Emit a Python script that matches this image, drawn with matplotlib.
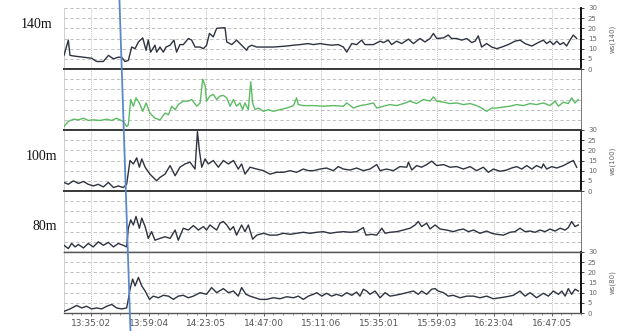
import matplotlib
matplotlib.use("Agg")
import matplotlib.pyplot as plt
from matplotlib.lines import Line2D
import matplotlib.transforms as mtransforms
import numpy as np

# ---------------- data (time in minutes from start of record, wind speed) ----------------
time_labels = ["13:35:02", "13:59:04", "14:23:05", "14:47:00", "15:11:06",
               "15:35:01", "15:59:03", "16:23:04", "16:47:05"]
first_tick = 11.25
tick_step = 24.0
t_end = 215.4

t140 = [0.0, 1.8, 2.5, 4.6, 8.1, 11.5, 13.6, 16.4, 18.5, 20.6,
        22.6, 24.0, 25.4, 26.8, 28.2, 29.6, 31.0, 32.8, 34.2, 35.1,
        36.1, 37.9, 38.6, 40.0, 41.4, 42.5, 44.2, 45.8, 46.9, 48.3,
        49.7, 51.8, 53.2, 54.6, 56.7, 58.1, 59.4, 60.6, 62.2, 63.6,
        66.4, 67.1, 67.8, 69.9, 71.9, 74.0, 76.1, 76.8, 78.2, 80.3,
        83.1, 87.2, 92.8, 95.6, 98.3, 101.8, 103.9, 106.7, 109.4, 111.5,
        114.3, 116.4, 117.8, 119.9, 121.9, 124.0, 125.4, 128.9, 131.7, 133.1,
        135.1, 136.5, 138.6, 140.7, 143.5, 145.6, 148.3, 150.4, 152.5, 153.9,
        155.3, 158.1, 160.1, 161.5, 163.6, 165.7, 167.8, 169.9, 171.3, 172.6,
        174.0, 176.1, 178.2, 180.3, 182.4, 185.1, 187.9, 190.0, 192.1, 194.9,
        197.6, 199.7, 201.1, 202.5, 203.9, 205.3, 206.7, 208.1, 209.4, 210.8,
        212.2, 213.6]
v140 = [6.7, 14.2, 6.7, 6.3, 5.8, 5.3, 3.7, 3.7, 6.7, 5.0,
        5.8, 5.8, 3.7, 4.2, 10.8, 10.0, 13.3, 15.3, 9.2, 14.2,
        8.3, 11.7, 8.3, 10.8, 8.3, 10.8, 11.7, 14.2, 8.3, 12.0,
        12.0, 15.0, 14.2, 10.8, 10.8, 10.0, 11.7, 17.5, 15.8, 20.0,
        20.3, 20.3, 13.3, 12.0, 14.2, 11.7, 9.2, 10.8, 11.7, 10.8,
        10.8, 10.8, 11.3, 11.7, 12.0, 12.5, 12.0, 12.5, 12.0, 11.7,
        12.0, 10.8, 8.3, 12.5, 12.0, 14.2, 12.0, 12.0, 13.7, 13.0,
        14.2, 12.0, 13.7, 12.5, 14.7, 12.5, 15.0, 13.3, 15.0, 17.5,
        15.0, 15.3, 16.7, 15.0, 15.0, 14.2, 15.0, 13.0, 13.7, 16.3,
        10.8, 12.5, 10.8, 10.0, 10.8, 12.0, 13.7, 14.2, 12.5, 11.3,
        13.0, 14.2, 12.5, 13.7, 12.0, 13.7, 12.0, 13.0, 11.3, 14.2,
        16.7, 15.0]

t120 = [0.0, 1.8, 3.9, 6.0, 8.1, 10.1, 12.2, 15.0, 17.8, 19.9,
        21.9, 23.3, 24.7, 26.1, 26.8, 27.8, 28.9, 30.0, 31.4, 32.8,
        34.2, 35.8, 37.9, 40.0, 42.1, 43.5, 44.9, 46.3, 47.6, 49.7,
        51.8, 53.2, 55.3, 56.7, 57.8, 58.8, 59.4, 60.8, 62.2, 63.6,
        65.0, 66.4, 67.8, 69.2, 70.6, 71.9, 73.3, 74.4, 75.4, 76.8,
        77.8, 78.6, 79.6, 81.0, 83.1, 85.1, 87.2, 90.0, 92.8, 95.6,
        96.9, 97.6, 99.7, 103.9, 108.1, 112.2, 116.4, 117.8, 120.6, 123.3,
        126.1, 128.9, 130.3, 133.1, 135.8, 138.6, 141.4, 144.2, 146.9, 149.7,
        152.5, 153.9, 155.3, 158.1, 160.8, 163.6, 166.4, 169.2, 171.9, 174.0,
        176.1, 178.2, 180.3, 183.1, 185.8, 188.6, 191.4, 194.2, 196.9, 199.7,
        202.5, 204.6, 206.0, 208.1, 210.1, 211.5, 212.9, 214.3]
v120 = [1.7, 4.2, 5.3, 5.0, 5.8, 4.7, 5.0, 4.7, 5.3, 4.7,
        5.8, 5.0, 4.2, 1.7, 2.5, 15.0, 11.7, 15.8, 13.3, 9.2,
        13.3, 8.3, 5.8, 5.0, 8.3, 7.5, 11.7, 10.0, 12.5, 14.2,
        14.2, 15.0, 11.7, 13.3, 25.0, 21.7, 14.2, 16.7, 17.5, 15.0,
        16.7, 17.0, 15.8, 11.7, 15.0, 11.7, 13.3, 10.0, 13.3, 10.0,
        23.7, 13.3, 10.0, 10.8, 9.2, 10.0, 9.2, 10.0, 10.8, 12.0,
        15.8, 12.5, 12.0, 12.0, 11.7, 12.0, 11.7, 13.3, 10.8, 12.0,
        12.5, 13.3, 10.8, 11.7, 12.5, 12.0, 13.0, 14.2, 13.0, 15.0,
        14.2, 16.3, 14.2, 13.7, 13.0, 13.3, 12.5, 13.0, 12.0, 10.8,
        9.2, 10.8, 10.8, 11.3, 11.7, 12.5, 12.0, 13.0, 12.5, 13.3,
        12.0, 14.2, 11.7, 13.7, 13.0, 15.8, 13.3, 15.0]

t100 = [0.0, 1.8, 3.9, 6.0, 8.1, 10.1, 12.2, 14.3, 16.4, 18.5,
        20.6, 22.6, 24.7, 26.1, 27.5, 28.9, 30.3, 31.4, 32.4, 33.8,
        35.8, 38.6, 40.0, 42.1, 44.2, 46.3, 48.3, 50.4, 52.5, 54.6,
        55.6, 56.4, 57.4, 58.8, 60.1, 62.2, 64.3, 66.4, 68.5, 70.6,
        72.6, 74.0, 75.4, 77.5, 80.3, 83.1, 85.8, 88.6, 91.4, 94.2,
        96.9, 99.7, 101.8, 103.9, 106.7, 109.4, 112.2, 114.3, 116.4, 119.2,
        121.9, 124.7, 127.5, 130.3, 131.7, 134.4, 137.2, 140.0, 142.8, 143.5,
        144.9, 146.9, 149.0, 151.1, 153.2, 155.3, 158.1, 160.8, 163.6, 166.4,
        169.2, 171.9, 174.7, 176.8, 178.9, 181.7, 184.4, 186.5, 188.6, 190.7,
        192.8, 194.9, 196.9, 199.0, 199.7, 201.1, 203.2, 205.3, 208.1, 210.8,
        212.2, 213.6]
v100 = [4.2, 3.3, 5.0, 3.7, 4.7, 3.3, 2.5, 3.3, 2.0, 4.2,
        1.7, 2.5, 1.7, 3.3, 15.0, 13.3, 16.3, 11.7, 15.8, 11.7,
        8.3, 5.0, 6.7, 8.3, 12.5, 7.5, 11.7, 13.3, 14.2, 10.8,
        29.2, 20.0, 11.7, 15.8, 13.3, 15.0, 11.7, 15.0, 13.3, 15.0,
        10.8, 13.3, 8.3, 11.7, 10.8, 10.0, 8.3, 9.2, 9.2, 10.0,
        9.2, 10.8, 10.0, 10.0, 10.8, 11.3, 10.0, 12.0, 10.8, 10.3,
        11.3, 10.0, 10.8, 13.0, 10.0, 10.8, 10.0, 12.0, 11.7, 14.2,
        10.3, 12.5, 11.7, 13.0, 14.7, 12.5, 13.0, 11.7, 12.0, 10.8,
        12.0, 10.0, 11.7, 9.2, 10.8, 9.7, 10.3, 11.3, 12.0, 10.8,
        12.5, 10.8, 12.5, 11.3, 13.3, 10.8, 12.0, 11.3, 12.5, 14.2,
        15.0, 11.7]

t80 = [0.0, 1.8, 3.2, 4.6, 6.0, 8.1, 10.1, 12.2, 14.3, 16.4,
       18.5, 20.6, 22.6, 24.7, 26.1, 26.8, 27.8, 28.9, 30.0, 31.4,
       32.4, 33.8, 35.1, 36.5, 37.9, 40.0, 42.1, 44.2, 46.3, 47.6,
       49.7, 51.8, 53.9, 56.0, 58.1, 59.4, 60.8, 62.2, 63.6, 65.0,
       66.4, 67.8, 69.2, 70.6, 71.9, 74.0, 75.4, 76.8, 78.6, 80.3,
       83.1, 85.8, 88.6, 91.4, 94.2, 96.9, 99.7, 102.5, 105.3, 108.1,
       110.8, 113.6, 116.4, 119.2, 121.9, 124.7, 125.8, 128.2, 130.3, 132.4,
       133.8, 135.8, 138.6, 141.4, 144.2, 146.3, 147.6, 149.0, 151.1, 152.5,
       154.6, 156.7, 159.4, 162.2, 164.3, 166.4, 168.5, 170.6, 173.3, 176.1,
       178.2, 180.3, 183.1, 185.8, 187.9, 190.0, 192.1, 194.2, 196.3, 198.3,
       200.4, 202.5, 204.6, 206.7, 208.8, 210.1, 211.5, 212.9, 214.3]
v80 = [3.3, 1.7, 4.2, 2.5, 3.7, 2.0, 4.2, 2.5, 5.0, 3.3,
       4.7, 2.5, 4.2, 3.3, 2.5, 11.7, 15.8, 13.3, 17.5, 11.7,
       16.7, 12.5, 6.7, 10.0, 5.8, 6.7, 7.5, 6.7, 10.8, 5.8,
       11.7, 10.8, 13.0, 10.8, 12.5, 10.8, 13.3, 12.0, 10.8, 14.2,
       15.0, 13.3, 10.8, 12.5, 8.3, 13.3, 10.0, 13.3, 6.3, 8.3,
       9.2, 8.3, 8.3, 9.2, 8.7, 9.2, 9.7, 9.2, 9.7, 10.0,
       9.2, 9.7, 10.0, 9.7, 10.0, 12.0, 8.3, 8.7, 8.3, 11.7,
       9.2, 9.7, 10.0, 10.8, 11.7, 13.3, 15.0, 12.5, 14.2, 11.3,
       13.3, 11.3, 10.8, 10.0, 10.8, 11.3, 10.0, 10.8, 9.2, 10.3,
       9.2, 8.7, 8.3, 9.7, 10.0, 11.7, 10.0, 10.3, 9.7, 10.8,
       10.0, 11.3, 10.3, 11.7, 10.8, 12.0, 15.0, 12.5, 13.3]

t60 = [0.0, 2.5, 5.3, 7.4, 9.4, 11.5, 13.6, 15.7, 17.8, 19.9,
       21.9, 24.0, 26.1, 26.8, 27.5, 28.6, 29.6, 31.0, 32.4, 33.8,
       35.6, 37.2, 39.3, 41.4, 43.5, 45.6, 47.6, 49.7, 51.8, 53.9,
       56.7, 59.4, 61.5, 63.6, 66.4, 68.5, 70.6, 72.6, 74.0, 75.8,
       77.5, 79.6, 81.7, 84.4, 87.2, 90.0, 92.8, 95.6, 97.6, 99.7,
       101.8, 103.9, 105.3, 107.4, 109.4, 111.5, 113.6, 115.7, 117.8, 119.9,
       121.9, 123.3, 124.7, 126.1, 127.5, 129.6, 131.7, 133.8, 135.8, 137.9,
       140.0, 142.8, 145.6, 147.6, 149.0, 151.1, 153.2, 154.6, 155.9, 158.1,
       160.1, 162.2, 165.0, 167.8, 170.6, 173.3, 176.1, 178.9, 181.7, 184.4,
       187.2, 190.0, 192.1, 194.2, 196.9, 199.7, 201.8, 203.9, 206.0, 207.4,
       208.8, 210.1, 211.5, 212.9, 214.3]
v60 = [0.8, 2.0, 3.7, 2.5, 3.3, 2.0, 2.5, 2.0, 3.3, 4.2,
       2.5, 2.0, 2.5, 6.7, 11.7, 16.7, 13.3, 17.5, 13.3, 10.8,
       6.7, 8.3, 7.5, 8.7, 8.3, 6.7, 8.3, 8.7, 7.5, 8.3,
       10.0, 9.2, 12.5, 10.0, 12.0, 10.0, 10.8, 8.3, 12.5, 9.2,
       8.3, 7.5, 6.7, 6.7, 7.5, 7.0, 8.0, 7.5, 8.3, 6.7,
       8.3, 9.2, 10.0, 8.3, 9.7, 8.3, 9.2, 8.3, 10.0, 8.7,
       10.3, 8.3, 11.7, 10.8, 9.2, 10.8, 7.5, 10.0, 8.3, 8.7,
       9.2, 10.0, 10.8, 9.2, 10.8, 9.2, 11.7, 12.0, 10.8, 10.0,
       8.3, 8.7, 7.5, 8.3, 8.3, 7.5, 8.3, 7.0, 7.5, 8.0,
       8.7, 10.8, 8.3, 10.0, 7.5, 9.7, 8.3, 10.8, 9.2, 10.8,
       8.3, 12.0, 9.2, 11.7, 10.8]

panel_left_labels = ["140m", "", "100m", "80m", ""]
panel_right_labels = ["ws(140)", "", "ws(100)", "", "ws(80)"]
event_t = (23.1, 27.7)   # slanted marker line: time at top / bottom of figure

# ---------------- figure ----------------
W, H = 628, 331
fig = plt.figure(figsize=(W / 100, H / 100), dpi=100)
fig.patch.set_facecolor("white")

left_px, right_px = 64, 581
tops_px = [8, 69, 130, 191, 252]
panel_h = 61

series = [(t140, v140, "#2f3340"), (t120, v120, "#5dbb63"), (t100, v100, "#2f3340"),
          (t80, v80, "#2f3340"), (t60, v60, "#2f3340")]

ticks = [first_tick + tick_step * i for i in range(len(time_labels))]
axes = []
for i, (tt, vv, col) in enumerate(series):
    top = tops_px[i]
    ax = fig.add_axes([left_px / W, 1 - (top + panel_h) / H,
                       (right_px - left_px) / W, panel_h / H])
    axes.append(ax)
    ax.plot(tt, vv, color=col, lw=1.0, zorder=3)
    ax.set_xlim(0, t_end)
    ax.set_ylim(0, 30)
    for yv in range(5, 31, 5):
        if yv == 30 and i != 0:
            continue
        ax.axhline(yv, color="#b5b5b5", lw=0.6, ls=(0, (4, 3)), zorder=1)
    for xv in ticks:
        ax.axvline(xv, color="#a8a8a8", lw=0.6, ls=(0, (1, 1.5)), zorder=1)
    ax.set_xticks(ticks)
    ax.tick_params(axis="x", length=0)
    ax.set_xticklabels([])
    ax.spines["left"].set_color("#c8c8c8")
    ax.spines["left"].set_linewidth(0.6)
    ax.spines["top"].set_color("#3a3a3a")
    ax.spines["top"].set_linewidth(1.4)
    ax.spines["bottom"].set_color("#3a3a3a")
    ax.spines["bottom"].set_linewidth(1.4)
    if i == 0:
        ax.spines["top"].set_visible(False)
    if i in (0, 2, 4):
        ax.spines["right"].set_color("#111111")
        ax.spines["right"].set_linewidth(1.4)
        ax.yaxis.tick_right()
        ax.set_yticks(range(0, 31, 5))
        ax.tick_params(axis="y", right=True, left=False, length=2.5, width=0.6,
                       labelsize=5, colors="#222222", labelcolor="#666666", pad=2.5)
        ax.yaxis.set_label_position("right")
        ax.set_ylabel(panel_right_labels[i], fontsize=5, color="#666666", labelpad=9)
    else:
        ax.spines["right"].set_color("#777777")
        ax.spines["right"].set_linewidth(0.7)
        ax.set_yticks([])

# thinner separator between 80m panel and bottom panel
axes[3].spines["bottom"].set_color("#555555")
axes[3].spines["bottom"].set_linewidth(1.0)
axes[4].spines["top"].set_color("#555555")
axes[4].spines["top"].set_linewidth(1.0)

# bottom axis
axb = axes[-1]
axb.spines["bottom"].set_color("#555555")
axb.spines["bottom"].set_linewidth(1.0)
axb.set_xticks(ticks)
axb.set_xticklabels(time_labels)
axb.set_xticks(np.arange(first_tick - 8, t_end, 4.0), minor=True)
axb.tick_params(axis="x", which="major", length=2.5, width=0.6, labelsize=6.5,
                colors="#444444", labelcolor="#555555", pad=1.5)
axb.tick_params(axis="x", which="minor", length=1.5, width=0.5, colors="#666666")

# left labels (serif)
label_pos = {"140m": (52, 25), "100m": (57, 157), "80m": (57, 226)}
for txt, (px, py) in label_pos.items():
    fig.text(px / W, 1 - py / H, txt, ha="right", va="center",
             family="Liberation Serif", fontsize=10, color="#111111")

# slanted blue marker line across all panels
trans = mtransforms.blended_transform_factory(axes[0].transData, fig.transFigure)
fig.add_artist(Line2D([event_t[0], event_t[1]], [1.0, 0.0], transform=trans,
                      color="#5b88c8", lw=1.3, zorder=10))

fig.savefig("out.png", dpi=100)
